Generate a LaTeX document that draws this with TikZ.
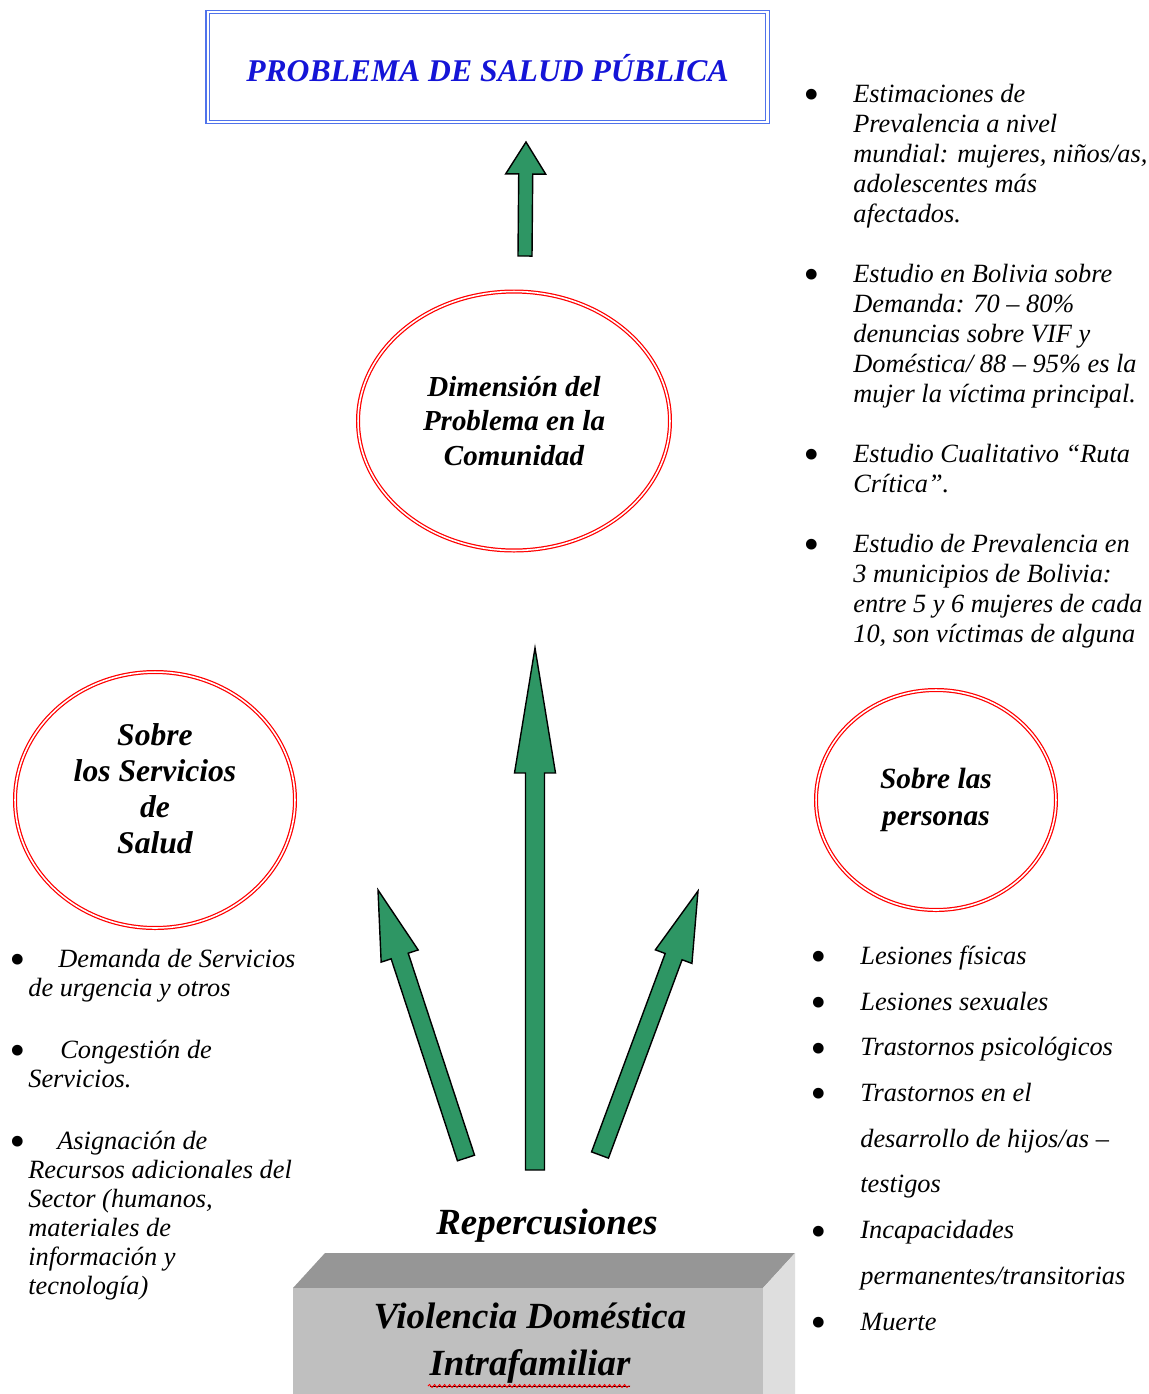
\documentclass[tikz,border=0pt]{standalone}
\usepackage{fontspec}
\usepackage{graphicx}
\setmainfont{Liberation Serif}
\usetikzlibrary{shapes.geometric,calc,decorations.pathmorphing}
\definecolor{verdeflecha}{RGB}{46,150,100}
\definecolor{azultitulo}{RGB}{20,20,215}
\definecolor{azulmarco}{RGB}{80,115,235}
\newdimen\pix \pix=0.02cm
\newcommand\punto[1]{\llap{\raisebox{-4.2pt}{\scalebox{1.7}{\textbullet}}\hspace{#1\pix}}}
\newcommand\flecha[5]{%
  \coordinate (#1-b) at ($(#2)!#5!(#1)$);
  \filldraw[flechaverde] ($(#1)!#3!90:(#2)$) -- ($(#1-b)!#3!90:(#2)$)
    -- ($(#1-b)!#4!90:(#2)$) -- (#2) -- ($(#1-b)!#4!-90:(#2)$)
    -- ($(#1-b)!#3!-90:(#2)$) -- ($(#1)!#3!-90:(#2)$) -- cycle;}
\tikzset{
  halo/.style={ellipse, draw=red, double=white, double distance=0.9pt, line width=0.7pt,
    inner sep=0pt, align=center, font=\bfseries\itshape\fontsize{16.5}{19.5}\selectfont},
  lista/.style={anchor=base west, align=left, inner sep=0pt},
  flechaverde/.style={fill=verdeflecha, draw=black, line width=0.8pt, line join=miter},
}
\begin{document}
\begin{tikzpicture}[x=0.02cm,y=-0.02cm]
  \fill[white] (0,0) rectangle (1149,1394);
  \useasboundingbox (0,0) rectangle (1149,1394);
  \node[draw=azulmarco, double=white, double distance=1.2pt, line width=0.8pt,
    minimum width=11.2cm, minimum height=2.2cm, text=azultitulo, text height=17pt, text depth=0pt,
    font=\bfseries\itshape\fontsize{18}{20}\selectfont] (titulo) at (487.5,67) {PROBLEMA DE SALUD PÚBLICA};
  \node[halo, minimum width=6.24cm, minimum height=5.18cm] (dim) at (514,421) {Dimensión del\\Problema en la\\Comunidad};
  \node[halo, minimum width=5.6cm, minimum height=5.12cm, text depth=13pt,
    font=\bfseries\itshape\fontsize{18}{20.5}\selectfont] (servicios) at (155,800) {Sobre\\los Servicios\\de\\Salud};
  \node[halo, minimum width=4.8cm, minimum height=4.4cm,
    font=\bfseries\itshape\fontsize{16.7}{21.5}\selectfont] (personas) at (936,800) {Sobre las\\personas};
  \coordinate (fa) at (525,256);
  \coordinate (fa-punta) at (526,142);
  \flecha{fa}{fa-punta}{0.14cm}{0.4cm}{0.64cm}
  \coordinate (fc) at (535,1170);
  \coordinate (fc-punta) at (535,648);
  \flecha{fc}{fc-punta}{0.19cm}{0.41cm}{2.5cm}
  \coordinate (fi) at (466,1158);
  \coordinate (fi-punta) at (378,890);
  \flecha{fi}{fi-punta}{0.18cm}{0.39cm}{1.39cm}
  \coordinate (fd) at (600,1155);
  \coordinate (fd-punta) at (698,891);
  \flecha{fd}{fd-punta}{0.18cm}{0.39cm}{1.4cm}
  \node[anchor=base, inner sep=0pt, font=\bfseries\itshape\fontsize{21}{24}\selectfont] (rep) at (547,1234) {Repercusiones};
  \fill[black!41] (293,1288) -- (325,1253) -- (795,1253) -- (763,1288) -- cycle;
  \fill[black!13] (763,1288) -- (795,1253) -- (795,1394) -- (763,1394) -- cycle;
  \fill[black!25] (293,1288) rectangle (763,1394);
  \node[align=center, inner sep=0pt, font=\bfseries\itshape\fontsize{21}{26.7}\selectfont] (vif) at (530,1345) {Violencia Doméstica\\\underline{Intrafamiliar}};
  \draw[red, line width=0.5pt, decorate, decoration={snake, amplitude=0.03cm, segment length=0.1cm}] (428,1386) -- (630,1386);
  \node[lista, font=\itshape\fontsize{15}{17.07}\selectfont] (datos) at (853,642) {%
    \punto{34}Estimaciones de\\Prevalencia a nivel\\mundial: mujeres, niños/as,\\adolescentes más\\afectados.\\[17.07pt]
    \punto{34}Estudio en Bolivia sobre\\Demanda: 70 – 80\%\\denuncias sobre VIF y\\Doméstica/ 88 – 95\% es la\\mujer la víctima principal.\\[17.07pt]
    \punto{34}Estudio Cualitativo “Ruta\\Crítica”.\\[17.07pt]
    \punto{34}Estudio de Prevalencia en\\3 municipios de Bolivia:\\entre 5 y 6 mujeres de cada\\10, son víctimas de alguna};
  \node[lista, font=\itshape\fontsize{15}{16.5}\selectfont] (efectos-serv) at (28,1294) {%
    \punto{3}\hspace*{30\pix}Demanda de Servicios\\de urgencia y otros\\[18.8pt]
    \punto{3}\hspace*{32\pix}Congestión de\\Servicios.\\[18.8pt]
    \punto{3}\hspace*{29\pix}Asignación de\\Recursos adicionales del\\Sector (humanos,\\materiales de\\información y\\tecnología)};
  \node[lista, font=\itshape\fontsize{15}{26}\selectfont] (efectos-pers) at (860,1330) {%
    \punto{34}Lesiones físicas\\\punto{34}Lesiones sexuales\\\punto{34}Trastornos psicológicos\\
    \punto{34}Trastornos en el\\desarrollo de hijos/as –\\testigos\\
    \punto{34}Incapacidades\\permanentes/transitorias\\\punto{34}Muerte};
\end{tikzpicture}
\end{document}
